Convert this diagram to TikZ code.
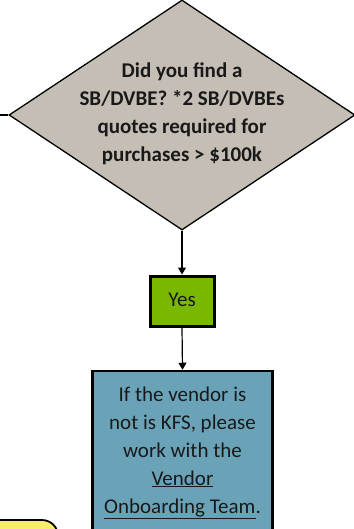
\documentclass[tikz,border=0pt]{standalone}
\usepackage{fontspec}
\setmainfont{Carlito}
\usetikzlibrary{shapes.geometric,arrows.meta}
\definecolor{dgray}{HTML}{C5BEB5}
\definecolor{ygreen}{HTML}{7AB800}
\definecolor{vblue}{HTML}{6AA3B8}
\definecolor{nyellow}{HTML}{F8EC6C}
\tikzset{
  x=1pt,y=1pt,
  txt/.style={font=\fontsize{21}{28}\selectfont, align=center, text=black!90},
  decision/.style={diamond, draw=black, line width=1.3pt, fill=dgray, inner sep=0pt,
    minimum width=346pt, minimum height=230pt},
  yesbox/.style={rectangle, draw=black, line width=3pt, fill=ygreen, inner sep=0pt,
    minimum width=64pt, minimum height=50pt},
  infobox/.style={rectangle, draw=black, line width=2.5pt, fill=vblue, inner sep=0pt,
    minimum width=180pt, minimum height=200pt},
  notebox/.style={rectangle, rounded corners=16pt, draw=black, line width=1.8pt, fill=nyellow,
    inner sep=0pt, minimum width=100pt, minimum height=60pt},
  conn/.style={line width=1.2pt, draw=black},
  arr/.style={conn, -{Triangle[width=8pt,length=7pt]}}
}
\begin{document}
\begin{tikzpicture}
\useasboundingbox (0,0) rectangle (353,-529);
\node[decision] (dec) at (182,-115) {};
\node[txt, font=\fontsize{21}{28}\selectfont\bfseries] (dectext) at (182,-114)
  {Did you find a\\SB/DVBE? *2 SB/DVBEs\\quotes required for\\purchases > \$100k};
\coordinate (leftend) at (0,-115);
\draw[conn] (leftend) -- (dec.west);
\node[yesbox] (yes) at (182,-301) {};
\node[txt] (yestext) at (182,-300) {Yes};
\draw[arr] (dec.south) -- (yes.north);
\node[infobox] (info) at (182.5,-471) {};
\node[txt, anchor=north] (infotext) at (182.5,-383)
  {If the vendor is\\not is KFS, please\\work with the\\\underline{Vendor}\\\underline{Onboarding Team}.};
\draw[arr] (yes.south) -- (info.north);
\node[notebox] (note) at (8,-550) {};
\end{tikzpicture}
\end{document}
